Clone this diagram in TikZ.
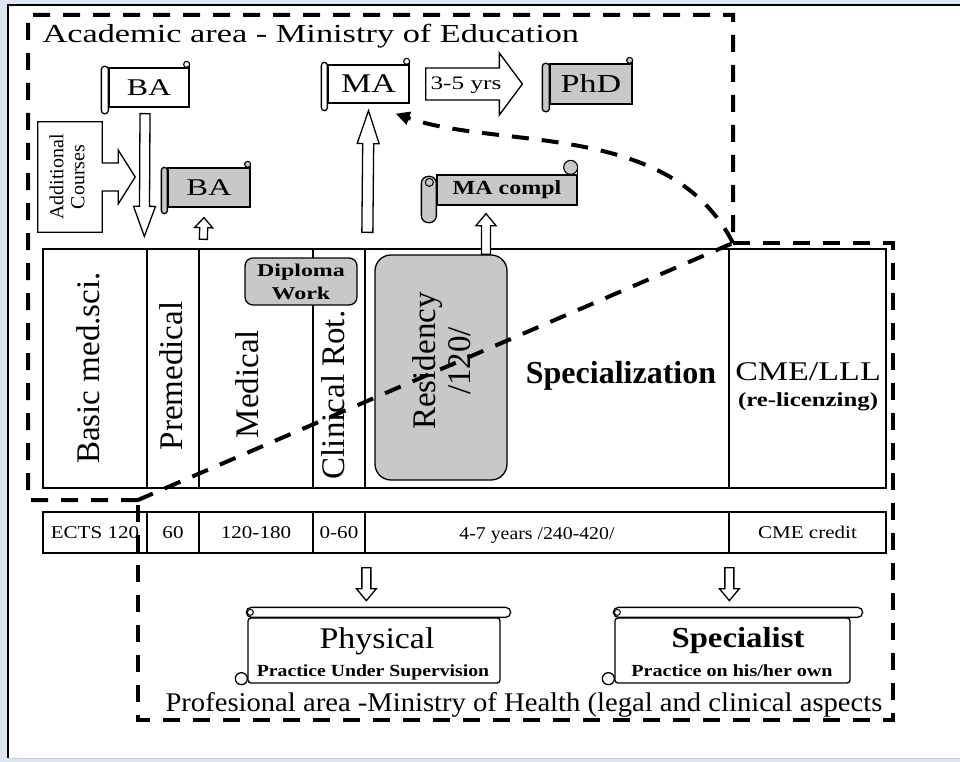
\documentclass[tikz,border=0pt]{standalone}
\usepackage{fontspec}
\setmainfont{Liberation Serif}
\usepackage{graphicx}
\usetikzlibrary{positioning,arrows.meta,calc}

\definecolor{panelblue}{HTML}{DCE6F2}
\definecolor{scrollgray}{HTML}{C8C8C8}

% stretch a text sideways only
\newcommand{\wider}[2]{\scalebox{#1}[1]{#2}}

% roll on the left side of a scroll node, curl at its top right
% #1 node, #2 fill, #3 roll width, #4 roll top, #5 roll drop, #6 curl radius
\newcommand{\leftroll}[6]{%
  \draw[line width=1.3pt, fill=#2, rounded corners=#6]
    ([xshift=-#3,yshift=#4]#1.north west) rectangle ([yshift=-#5]#1.south west);
  \draw[line width=1.1pt] (#1.north east) -- ([yshift=#6]#1.north east);
  \draw[line width=1.1pt, fill=#2] ([xshift=-#6,yshift=#6]#1.north east) circle (#6);
}

% roll on top of a wide scroll node, curl at its bottom left
\newcommand{\toproll}[2]{%
  \draw[line width=1.3pt, fill=white] ([xshift=-6pt,yshift=5pt]#1.south west) circle (6pt);
  \draw[line width=1.3pt, fill=white, rounded corners=5pt]
    ([xshift=-1pt]#1.north west) rectangle ([xshift=#2,yshift=10pt]#1.north east);
  \draw[line width=1pt] ([xshift=3pt,yshift=5pt]#1.north west) circle (3pt);
}

% hollow block arrow: tail, tip, shaft half width, head half width, head length
\newcommand{\hollowarrow}[5]{%
  \coordinate (hb) at ($(#2)!#5!(#1)$);
  \draw[blockline] ($(#1)!#3!90:(#2)$) -- ($(hb)!#3!90:(#2)$) -- ($(hb)!#4!90:(#2)$)
    -- (#2) -- ($(hb)!#4!-90:(#2)$) -- ($(hb)!#3!-90:(#2)$) -- ($(#1)!#3!-90:(#2)$) -- cycle;
}

\tikzset{
  cell/.style={draw, line width=1.3pt, inner sep=0pt},
  upcell/.style={cell, minimum height=239pt},
  lowcell/.style={cell, minimum height=41pt, font=\fontsize{18}{18}\selectfont},
  scrollbody/.style={draw, line width=1.3pt, inner sep=0pt, fill=white},
  greybody/.style={scrollbody, fill=scrollgray},
  blockline/.style={line width=1.3pt, fill=white, line join=miter},
  areadash/.style={line width=4pt, dash pattern=on 17pt off 13pt},
  coltext/.style={rotate=90, font=\fontsize{33}{35}\selectfont},
}

\begin{document}
\begin{tikzpicture}[x=1pt,y=-1pt]
\useasboundingbox (0,0) rectangle (960,762);
\fill[panelblue] (0,0) rectangle (960,762);
\fill[white] (8,5) rectangle (960,758);
\draw[line width=2.5pt] (8,758) -- (8,5) -- (960,5);
\draw[gray!40, line width=1pt] (8,758) -- (960,758);

% titles
\node[anchor=base west, font=\fontsize{26}{30}\selectfont] (acad) at (39,43)
  {\wider{1.32}{Academic area - Ministry of Education}};
\node[anchor=base west, font=\fontsize{27}{30}\selectfont] (prof) at (162,711)
  {\wider{1.06}{Profesional area -Ministry of Health (legal and clinical aspects}};

% study table
\node[upcell, minimum width=104pt] (c1) at (95,368.5) {};
\node[upcell, minimum width=52pt] (c2) at (173,368.5) {};
\node[upcell, minimum width=114pt] (c3) at (256,368.5) {};
\node[upcell, minimum width=52pt] (c4) at (339,368.5) {};
\node[upcell, minimum width=364pt] (c5) at (547,368.5) {};
\node[upcell, minimum width=157pt] (c6) at (807.5,368.5) {};

\node[lowcell, minimum width=104pt] (d1) at (95,532.5) {\wider{1.17}{ECTS 120}};
\node[lowcell, minimum width=52pt] (d2) at (173,532.5) {\wider{1.17}{60}};
\node[lowcell, minimum width=114pt] (d3) at (256,532.5) {\wider{1.17}{120-180}};
\node[lowcell, minimum width=52pt] (d4) at (339,532.5) {\wider{1.17}{0-60}};
\node[lowcell, minimum width=364pt] (d5) at (547,532.5) {};
\node[lowcell, minimum width=157pt] (d6) at (807.5,532.5) {\wider{1.17}{CME credit}};
\node[font=\fontsize{18}{18}\selectfont, anchor=base] (yrsT) at (537,539) {\wider{1.1}{4-7 years /240-420/}};

\node[draw, fill=scrollgray, rounded corners=16pt, line width=1.3pt,
  minimum width=132pt, minimum height=225pt] (res) at (441,367.5) {};
\node[draw, fill=scrollgray, rounded corners=8pt, line width=1.3pt, inner sep=0pt,
  minimum width=112pt, minimum height=47pt, align=center,
  font=\fontsize{18}{23}\selectfont\bfseries] (dipl) at (301,281.5)
  {\wider{1.33}{Diploma}\\\wider{1.33}{Work}};

\node[coltext] (basicT) at (88,368) {Basic med.sci.};
\node[coltext] (premT) at (171,376) {Premedical};
\node[coltext] (medT) at (247,384) {Medical};
\node[coltext] (clinT) at (333,395) {Clinical Rot.};
\node[coltext, align=center] (resT) at (442,361) {Residency\\/120/};
\node[anchor=base, font=\fontsize{32}{32}\selectfont\bfseries] (specT) at (621,383) {Specialization};
\node[anchor=base, font=\fontsize{27}{27}\selectfont] (cmeT) at (808,380) {\wider{1.26}{CME/LLL}};
\node[anchor=base, font=\fontsize{20}{20}\selectfont\bfseries] (relT) at (808,406) {\wider{1.24}{(re-licenzing)}};

% academic scrolls
\node[scrollbody, minimum width=80pt, minimum height=39pt, font=\fontsize{24}{24}\selectfont]
  (ba1) at (149,87.5) {\wider{1.33}{BA}};
\leftroll{ba1}{white}{7pt}{1pt}{6pt}{3pt}
\node[greybody, minimum width=82pt, minimum height=39pt, font=\fontsize{24}{24}\selectfont]
  (ba2) at (209,187.5) {\wider{1.36}{BA}};
\leftroll{ba2}{scrollgray}{6pt}{0pt}{6pt}{3pt}
\node[scrollbody, minimum width=81pt, minimum height=38pt, font=\fontsize{27}{27}\selectfont]
  (ma) at (368.5,84) {\wider{1.26}{MA}};
\leftroll{ma}{white}{6pt}{2pt}{7pt}{3pt}
\node[greybody, minimum width=82pt, minimum height=40pt, font=\fontsize{26}{26}\selectfont]
  (phd) at (591,84) {\wider{1.31}{PhD}};
\leftroll{phd}{scrollgray}{7pt}{0pt}{7pt}{3pt}
\node[greybody, minimum width=140pt, minimum height=30pt, font=\fontsize{20}{20}\selectfont\bfseries]
  (macompl) at (507,190) {\wider{1.2}{MA compl}};
\leftroll{macompl}{scrollgray}{15pt}{-2pt}{17pt}{7pt}
\draw[line width=1pt] ([xshift=-7pt,yshift=-8pt]macompl.north west) circle (4pt);

% additional courses callout
\node[minimum width=64pt, minimum height=110pt, inner sep=0pt] (addc) at (70,177) {};
\draw[blockline] (addc.north west) -- (addc.north east) -- ([yshift=14pt]addc.east)
  -- ++(16pt,0pt) -- ++(0pt,13pt) -- ++(17pt,-27pt) -- ++(-17pt,-27pt) -- ++(0pt,13pt)
  -- ++(-16pt,0pt) -- (addc.south east) -- (addc.south west) -- cycle;
\node[rotate=90, align=center, font=\fontsize{20}{21}\selectfont] (addT)
  at ([xshift=-3pt]addc.center) {Additional\\Courses};

% block arrows
\coordinate (baDownTail) at ([xshift=-4pt,yshift=-6pt]ba1.south);
\coordinate (baDownTip) at ([xshift=-2pt,yshift=12pt]c2.north west);
\hollowarrow{baDownTail}{baDownTip}{5pt}{11pt}{30pt}
\coordinate (baUpTail) at ([xshift=5pt,yshift=9pt]c3.north west);
\coordinate (baUpTip) at ([xshift=-5pt,yshift=-10pt]ba2.south);
\hollowarrow{baUpTail}{baUpTip}{4pt}{9pt}{10pt}
\coordinate (maUpTail) at ([xshift=3pt,yshift=16pt]c5.north west);
\coordinate (maUpTip) at ([yshift=-7pt]ma.south);
\hollowarrow{maUpTail}{maUpTip}{5.5pt}{11pt}{33pt}
\coordinate (complTail) at ([xshift=45pt]res.north);
\coordinate (complTip) at ([xshift=-21pt,yshift=-8pt]macompl.south);
\hollowarrow{complTail}{complTip}{4.5pt}{10pt}{12pt}
\coordinate (yrsTail) at ([xshift=16pt]ma.east);
\coordinate (yrsTip) at ([xshift=-27pt]phd.west);
\hollowarrow{yrsTail}{yrsTip}{16pt}{31pt}{23pt}
\node[anchor=base, font=\fontsize{19}{19}\selectfont] (yrs) at (466,90) {\wider{1.33}{3-5 yrs}};
\coordinate (physTail) at ([xshift=2pt,yshift=-14pt]d5.south west);
\coordinate (physTip) at ([xshift=2pt,yshift=-47pt]d5.south west);
\hollowarrow{physTail}{physTip}{4.5pt}{10pt}{12pt}
\coordinate (specTail) at ([xshift=1pt,yshift=-14pt]d6.south west);
\coordinate (specTip) at ([xshift=1pt,yshift=-47pt]d6.south west);
\hollowarrow{specTail}{specTip}{4.5pt}{10pt}{12pt}

% professional scrolls
\node[scrollbody, rounded corners=3pt, minimum width=252pt, minimum height=65pt] (phys) at (374,650.5) {};
\toproll{phys}{10pt}
\node[anchor=base, font=\fontsize{30}{30}\selectfont] (physT) at (377,648) {\wider{1.13}{Physical}};
\node[anchor=base, font=\fontsize{17}{17}\selectfont\bfseries] (physS) at (373,676)
  {\wider{1.16}{Practice Under Supervision}};
\node[scrollbody, rounded corners=3pt, minimum width=235pt, minimum height=65pt] (spec) at (732.5,650.5) {};
\toproll{spec}{12pt}
\node[anchor=base, font=\fontsize{29}{29}\selectfont\bfseries] (specN) at (738,647) {\wider{1.13}{Specialist}};
\node[anchor=base, font=\fontsize{17}{17}\selectfont\bfseries] (specS) at (732,676)
  {\wider{1.18}{Practice on his/her own}};

% area borders
\coordinate (kink) at (733,243);
\coordinate (knee) at (138,500);
\draw[areadash] (knee) -- (28,500) -- (28,15) -- (733,15) -- (kink) -- (knee);
\draw[areadash] (kink) -- (893,243) -- (893,720) -- (138,720) -- (knee);
\coordinate (maArr) at ([xshift=-14pt,yshift=-10pt]ma.south east);
\draw[areadash, -{Triangle[length=14pt,width=13pt]}] (kink) .. controls (670,120) and (500,150) .. (maArr);
\end{tikzpicture}
\end{document}
